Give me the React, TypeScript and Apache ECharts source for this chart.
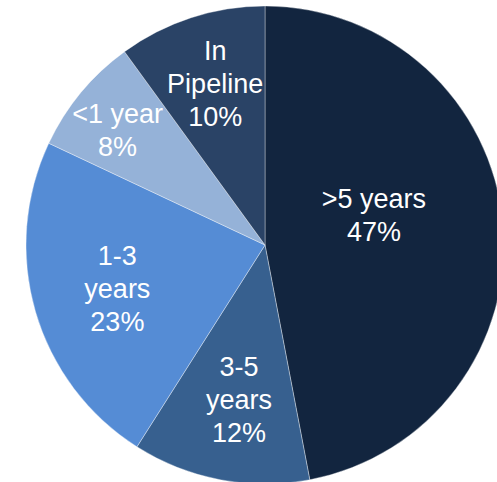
import React, { useEffect, useRef } from "react";
import * as echarts from "echarts";

const categories = [">5 years", "3-5 years", "1-3 years", "<1 year", "In Pipeline"];
const labelTexts = [">5 years", "3-5\nyears", "1-3\nyears", "<1 year", "In\nPipeline"];
const shares = [47, 12, 23, 8, 10];
const colors = ["#12253F", "#37608F", "#558CD5", "#95B2D8", "#2A4366"];
const labelShift = [
  [-13, -18],
  [-3, 35],
  [-30, 10],
  [-53, -36],
  [-12, -44],
];

export default function App() {
  const ref = useRef<HTMLDivElement>(null);
  useEffect(() => {
    if (!ref.current) return;
    const chart = echarts.init(ref.current, null, { renderer: "svg" });
    chart.setOption({
      animation: false,
      backgroundColor: "#ffffff",
      series: [
        {
          type: "pie",
          center: [265, 245],
          radius: 239,
          startAngle: 90,
          clockwise: true,
          avoidLabelOverlap: false,
          data: categories.map((c, i) => ({
            name: c,
            value: shares[i],
            itemStyle: { color: colors[i] },
          })),
          itemStyle: { borderColor: "rgba(255,255,255,0.45)", borderWidth: 0.8 },
          label: {
            show: true,
            position: "inside",
            color: "#ffffff",
            fontSize: 27,
            lineHeight: 33,
            fontFamily: "'Liberation Sans', Arial, sans-serif",
            align: "center",
            formatter: (p: any) => labelTexts[p.dataIndex] + "\n" + shares[p.dataIndex] + "%",
          },
          labelLayout: (p: any) => ({
            dx: labelShift[p.dataIndex][0],
            dy: labelShift[p.dataIndex][1],
          }),
          labelLine: { show: false },
          emphasis: { disabled: true },
        },
      ],
    });
    return () => chart.dispose();
  }, []);
  return (
    <div
      ref={ref}
      style={{ position: "absolute", left: 0, top: 0, width: 497, height: 482 }}
    />
  );
}
